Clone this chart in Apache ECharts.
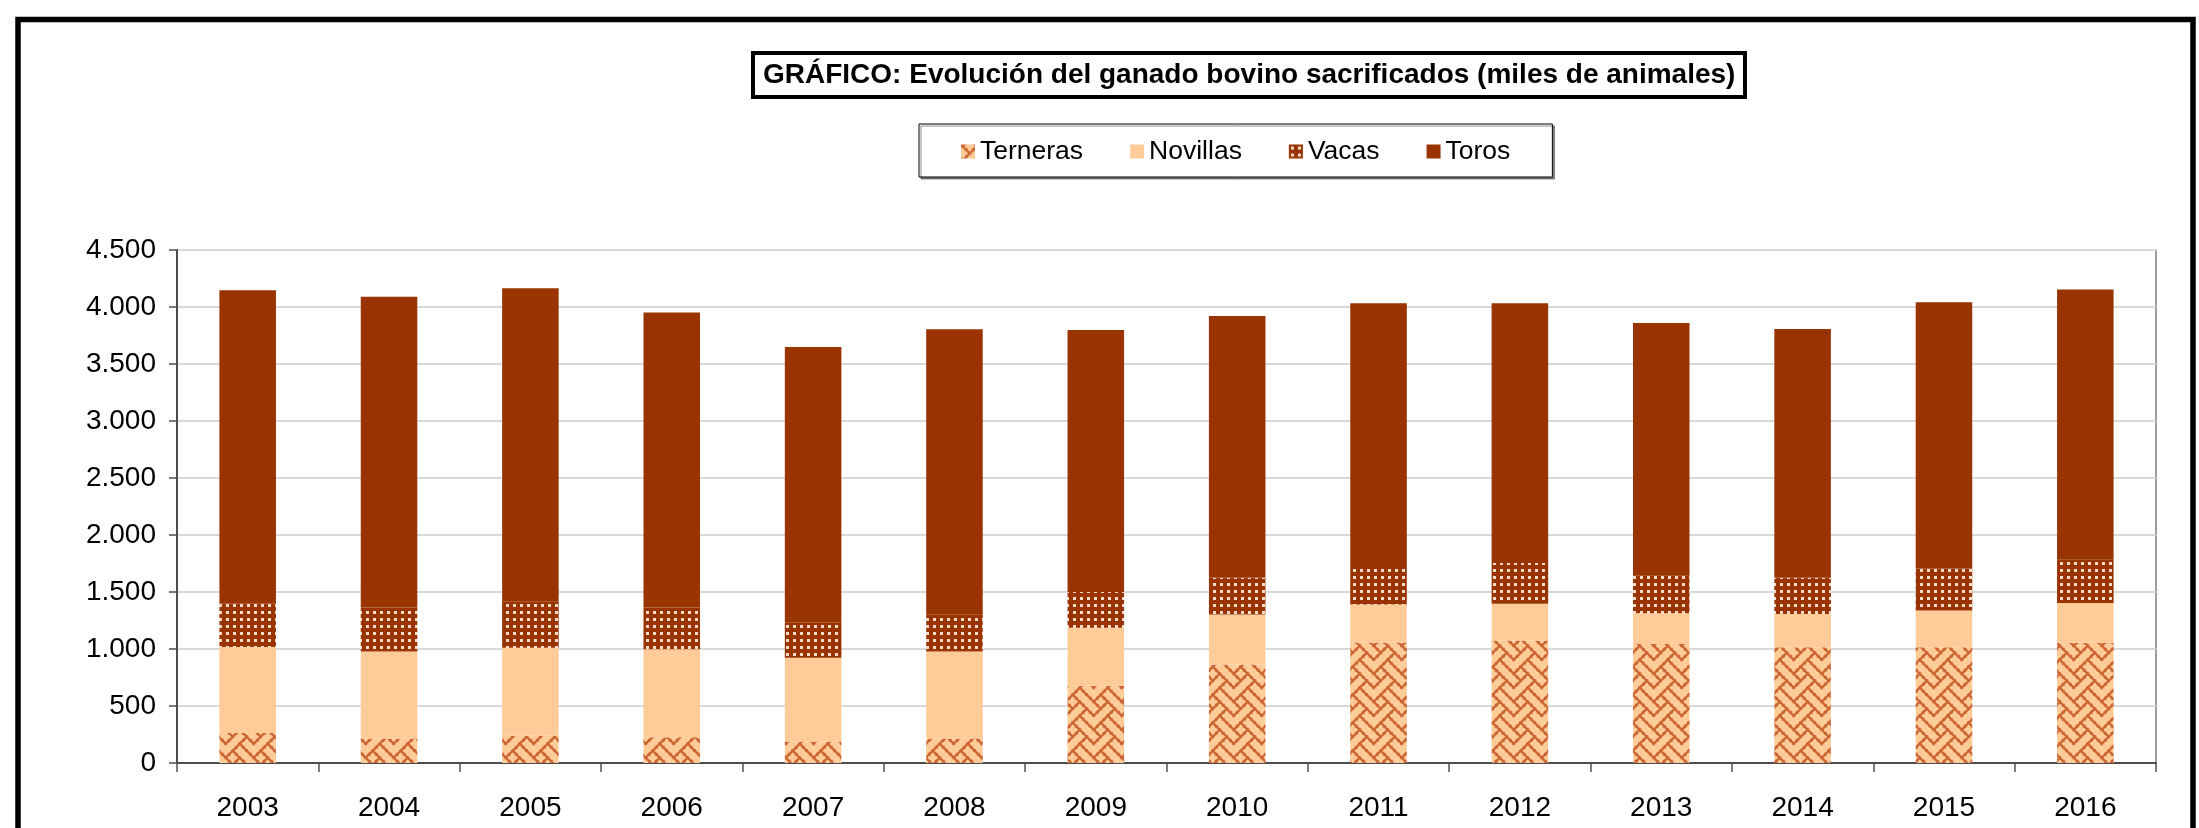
<!DOCTYPE html>
<html>
<head>
<meta charset="utf-8">
<title>Evolución del ganado bovino sacrificados</title>
<script src="https://cdn.jsdelivr.net/npm/echarts@6/dist/echarts.min.js"></script>
<style>
  html, body { margin: 0; padding: 0; background: #fff; }
  #chart { width: 2199px; height: 828px; }
</style>
</head>
<body>
<div id="chart"></div>
<script>
// miles de animales
const years = ['2003', '2004', '2005', '2006', '2007', '2008', '2009', '2010', '2011', '2012', '2013', '2014', '2015', '2016'];
const terneras = [263, 216, 240, 225, 189, 216, 677, 864, 1056, 1074, 1044, 1015, 1015, 1054];
const novillas = [755, 763, 772, 772, 734, 763, 509, 438, 334, 322, 269, 293, 322, 349];
const vacas = [378, 385, 402, 367, 308, 325, 314, 322, 337, 358, 329, 316, 369, 379];
const toros = [2751, 2727, 2751, 2588, 2419, 2500, 2298, 2298, 2305, 2278, 2218, 2184, 2336, 2372];

const FONT = "'Liberation Sans', Arial, sans-serif";

// trama "weave" de Excel (8x8), con las diagonales unidas
function weavePattern() {
  const bits = [0x88, 0x54, 0x22, 0x45, 0x88, 0x14, 0x22, 0x51];
  const cell = 3.5, size = 28;
  const on = (x, y) => bits[(y + 8) % 8] & (0x80 >> ((x + 8) % 8));
  const c = document.createElement('canvas');
  c.width = c.height = size;
  const ctx = c.getContext('2d');
  ctx.fillStyle = '#FFCC99';
  ctx.fillRect(0, 0, size, size);
  ctx.strokeStyle = ctx.fillStyle = '#CC6633';
  ctx.lineWidth = 2.4;
  ctx.lineCap = 'round';
  for (let ox = -1; ox <= 1; ox++) {
    for (let oy = -1; oy <= 1; oy++) {
      for (let y = 0; y < 8; y++) {
        for (let x = 0; x < 8; x++) {
          if (!on(x, y)) continue;
          const cx = (x + ox * 8 + 0.5) * cell, cy = (y + oy * 8 + 0.5) * cell;
          [[1, 1], [1, -1]].forEach(([dx, dy]) => {
            if (on(x + dx, y + dy)) {
              ctx.beginPath();
              ctx.moveTo(cx, cy);
              ctx.lineTo(cx + dx * cell, cy + dy * cell);
              ctx.stroke();
            }
          });
          ctx.fillRect(cx - 1.4, cy - 1.4, 2.8, 2.8);
        }
      }
    }
  }
  return c;
}

// trama de puntos claros sobre marrón
function dotPattern() {
  const c = document.createElement('canvas');
  c.width = c.height = 7;
  const ctx = c.getContext('2d');
  ctx.fillStyle = '#993300';
  ctx.fillRect(0, 0, 7, 7);
  ctx.fillStyle = '#F4DCCB';
  ctx.fillRect(2, 2, 3, 3);
  return c;
}

const chart = echarts.init(document.getElementById('chart'));

const barSeries = (name, data, color) => ({
  name: name,
  type: 'bar',
  stack: 'total',
  barWidth: '40%',
  data: data,
  itemStyle: { color: color },
  emphasis: { disabled: true }
});

chart.setOption({
  backgroundColor: '#fff',
  animation: false,
  title: {
    text: 'GRÁFICO: Evolución del ganado bovino sacrificados (miles de animales)',
    left: 753,
    top: 53,
    padding: [8, 10, 8, 10],
    borderColor: '#000',
    borderWidth: 4,
    backgroundColor: '#fff',
    textStyle: { fontFamily: FONT, fontSize: 28, fontWeight: 'bold', color: '#000' }
  },
  legend: {
    left: 919,
    top: 124,
    padding: [14, 42, 12, 42],
    itemGap: 47,
    itemWidth: 14,
    itemHeight: 14,
    borderColor: '#000',
    borderWidth: 1,
    backgroundColor: '#fff',
    shadowColor: 'rgba(0,0,0,0.45)',
    shadowOffsetX: 2,
    shadowOffsetY: 2,
    shadowBlur: 0,
    icon: 'rect',
    textStyle: { fontFamily: FONT, fontSize: 26.5, color: '#000' },
    data: ['Terneras', 'Novillas', 'Vacas', 'Toros']
  },
  grid: {
    left: 177, right: 43, top: 250, bottom: 65,
    containLabel: false,
    outerBoundsMode: 'none',
    show: true,
    borderColor: '#808080',
    borderWidth: 1.5,
    backgroundColor: '#fff'
  },
  xAxis: {
    type: 'category',
    data: years,
    axisLine: { lineStyle: { color: '#4d4d4d', width: 2 } },
    axisTick: { show: true, length: 9, lineStyle: { color: '#4d4d4d', width: 1.5 } },
    axisLabel: { fontFamily: FONT, fontSize: 28, color: '#000', margin: 31 }
  },
  yAxis: {
    type: 'value',
    min: 0,
    max: 4500,
    interval: 500,
    axisLine: { show: true, lineStyle: { color: '#4d4d4d', width: 2 } },
    axisTick: { show: true, length: 8, lineStyle: { color: '#4d4d4d', width: 1.5 } },
    axisLabel: {
      fontFamily: FONT, fontSize: 28, color: '#000', margin: 21,
      formatter: v => String(v).replace(/\B(?=(\d{3})+(?!\d))/g, '.')
    },
    splitLine: { lineStyle: { color: '#d9d9d9', width: 2 } }
  },
  series: [
    barSeries('Terneras', terneras, { image: weavePattern(), repeat: 'repeat' }),
    barSeries('Novillas', novillas, '#FFCC99'),
    barSeries('Vacas', vacas, { image: dotPattern(), repeat: 'repeat' }),
    barSeries('Toros', toros, '#993300')
  ],
  graphic: [
    {
      type: 'rect',
      z: -10,
      silent: true,
      shape: { x: 18, y: 19.5, width: 2175, height: 900 },
      style: { fill: null, stroke: '#000', lineWidth: 5.5 }
    }
  ]
});
</script>
</body>
</html>
